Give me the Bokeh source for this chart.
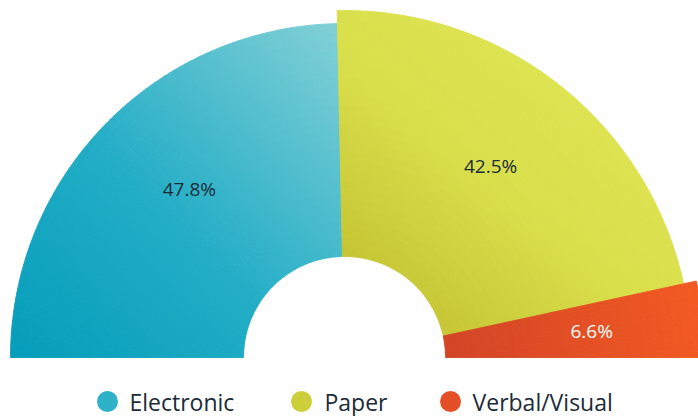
import numpy as np
from bokeh.plotting import figure
from bokeh.models import ColumnDataSource, Range1d
from bokeh.core.properties import value
from bokeh.embed import file_html
from bokeh.resources import INLINE

# ---- data ----
categories = ["Electronic", "Paper", "Verbal/Visual"]
shares = [47.8, 42.5, 6.6]
labels = ["47.8%", "42.5%", "6.6%"]

# ---- style / layout ----
W, H = 698, 416
CX, CY_SCREEN = 344, 357
CY = H - CY_SCREEN
INNER = 101
OUTER = [334, 347, 360]
LABEL_FRAC = [0.55, 0.57, 0.57]
LABEL_ANGLE_SHIFT_DEG = [-3.0, 1.0, 0.0]
LABEL_COLORS = ["#1c2b39", "#1c2b39", "#ffffff"]
FONT = "Open Sans"
# gradient axis in screen coords (p0 -> p1) and colour stops
GRAD = [
    ((10, 355), (336, 23), [(0.0, "#059dba"), (0.45, "#22adc6"), (1.0, "#82d0d6")]),
    ((400, 330), (600, 90), [(0.0, "#c3c131"), (0.55, "#d9df4a"), (1.0, "#dee453")]),
    ((445, 345), (698, 290), [(0.0, "#d24427"), (1.0, "#f35a22")]),
]
LEGEND_CIRCLE_COLORS = ["#2fb1c7", "#ccce3a", "#e54f28"]
LEGEND_CIRCLE_X = [107, 301, 450]
LEGEND_TEXT_X = [129, 324, 472]
LEGEND_Y_SCREEN = 401


def hex2rgb(h):
    return np.array([int(h[i:i + 2], 16) for i in (1, 3, 5)], float)


def grad_color(stops, t):
    t = min(max(t, 0.0), 1.0)
    for (p0, c0), (p1, c1) in zip(stops[:-1], stops[1:]):
        if t <= p1:
            f = (t - p0) / (p1 - p0) if p1 > p0 else 0.0
            c = hex2rgb(c0) * (1 - f) + hex2rgb(c1) * f
            return "#%02x%02x%02x" % tuple(int(round(v)) for v in c)
    return stops[-1][1]


total = float(sum(shares))
cum = np.concatenate([[0.0], np.cumsum(shares)])
hi_angles = np.pi - cum[:-1] / total * np.pi
lo_angles = np.pi - cum[1:] / total * np.pi

cells = dict(start=[], end=[], inner=[], outer=[], color=[])
for i in range(len(categories)):
    a0, a1 = lo_angles[i], hi_angles[i]
    n_a = max(8, int(np.degrees(a1 - a0) / 1.0))
    n_r = 26
    (gx0, gy0), (gx1, gy1), stops = GRAD[i]
    gdx, gdy = gx1 - gx0, gy1 - gy0
    glen2 = gdx * gdx + gdy * gdy
    a_edges = np.linspace(a0, a1, n_a + 1)
    r_edges = np.linspace(INNER, OUTER[i], n_r + 1)
    for ja in range(n_a):
        for jr in range(n_r):
            am = 0.5 * (a_edges[ja] + a_edges[ja + 1])
            rm = 0.5 * (r_edges[jr] + r_edges[jr + 1])
            sx = CX + rm * np.cos(am)
            sy = CY_SCREEN - rm * np.sin(am)
            t = ((sx - gx0) * gdx + (sy - gy0) * gdy) / glen2
            cells["start"].append(a_edges[ja])
            cells["end"].append(a_edges[ja + 1])
            cells["inner"].append(r_edges[jr])
            cells["outer"].append(r_edges[jr + 1])
            cells["color"].append(grad_color(stops, t))

p = figure(width=W, height=H, x_range=Range1d(0, W), y_range=Range1d(0, H),
           output_backend="svg", toolbar_location=None, min_border=0)
p.axis.visible = False
p.grid.visible = False
p.outline_line_color = None
p.background_fill_color = "white"
p.border_fill_color = "white"

n = len(cells["start"])
src = ColumnDataSource(dict(cells, x=[CX] * n, y=[CY] * n))
p.annular_wedge(x="x", y="y", inner_radius="inner", outer_radius="outer",
                start_angle="start", end_angle="end", direction="anticlock",
                fill_color="color", line_color="color", line_width=0.9, source=src)

# slice labels
mid = 0.5 * (lo_angles + hi_angles) + np.radians(LABEL_ANGLE_SHIFT_DEG)
lr = [INNER + f * (o - INNER) for f, o in zip(LABEL_FRAC, OUTER)]
lab_src = ColumnDataSource(dict(
    x=[CX + r * np.cos(a) for r, a in zip(lr, mid)],
    y=[CY + r * np.sin(a) for r, a in zip(lr, mid)],
    text=labels, color=LABEL_COLORS))
p.text(x="x", y="y", text="text", text_color="color", source=lab_src,
       text_align="center", text_baseline="middle",
       text_font=value(FONT), text_font_size="19px")

# legend
ly = H - LEGEND_Y_SCREEN
p.scatter(x=LEGEND_CIRCLE_X, y=[ly] * 3, size=21, marker="circle",
          fill_color=LEGEND_CIRCLE_COLORS, line_color=None)
p.text(x=LEGEND_TEXT_X, y=[ly] * 3, text=categories, text_color="#1c2b39",
       text_align="left", text_baseline="middle",
       text_font=value(FONT), text_font_size="23px")

open("out.html", "w").write(file_html(p, INLINE))
